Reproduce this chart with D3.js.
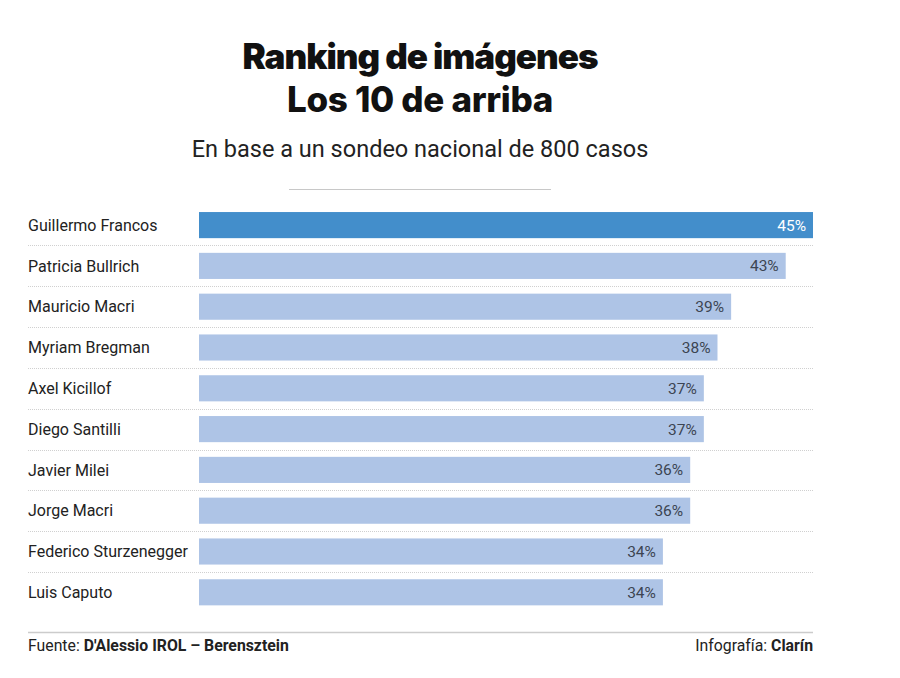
<!DOCTYPE html>
<html><head><meta charset="utf-8">
<script src="https://cdn.jsdelivr.net/npm/d3@7"></script>
<style>body{margin:0;background:#fff;} svg{display:block;}</style>
</head><body>
<svg id="chart" width="900" height="678"></svg>
<script>
const names = ["Guillermo Francos","Patricia Bullrich","Mauricio Macri","Myriam Bregman","Axel Kicillof","Diego Santilli","Javier Milei","Jorge Macri","Federico Sturzenegger","Luis Caputo"];
const values = [45,43,39,38,37,37,36,36,34,34];
const highlight = ["Guillermo Francos"];
const titleLines = ["Ranking de imágenes","Los 10 de arriba"];
const subtitle = "En base a un sondeo nacional de 800 casos";

const svg = d3.select("#chart");
const bodyFont = "Roboto, 'Noto Sans', sans-serif";
const titleFont = "Inter, Roboto, sans-serif";

svg.append("text").attr("x",420).attr("y",69).attr("text-anchor","middle")
  .attr("font-family",titleFont).attr("font-weight",900).attr("font-size",35).attr("letter-spacing",-1)
  .attr("fill","#111").text(titleLines[0]);
svg.append("text").attr("x",420).attr("y",112).attr("text-anchor","middle")
  .attr("font-family",titleFont).attr("font-weight",800).attr("font-size",35).attr("letter-spacing",-0.3)
  .attr("fill","#111").text(titleLines[1]);
svg.append("text").attr("x",420).attr("y",157).attr("text-anchor","middle")
  .attr("font-family",bodyFont).attr("font-size",23.5).attr("fill","#222").text(subtitle);
svg.append("line").attr("x1",289).attr("x2",551).attr("y1",189.5).attr("y2",189.5)
  .attr("stroke","#c8c8c8").attr("stroke-width",1);

const x = d3.scaleLinear().domain([0,45]).range([199,813]);
const y = d3.scaleBand().domain(names).range([204.7,612.7]).paddingInner(0.36).paddingOuter(0.18);

const rows = svg.append("g");
names.forEach((n,i)=>{
  if(i<names.length-1){
    const yy = y(n)+y.bandwidth()+ (y.step()-y.bandwidth())/2;
    rows.append("line").attr("x1",28).attr("x2",813).attr("y1",Math.round(yy)+0.5).attr("y2",Math.round(yy)+0.5)
      .attr("stroke","#d0d0d0").attr("stroke-width",1).attr("stroke-dasharray","1,1");
  }
});

const data = names.map((n,i)=>({name:n,value:values[i]}));
svg.selectAll("rect.bar").data(data).join("rect").attr("class","bar")
  .attr("x",x(0)).attr("y",d=>y(d.name)).attr("width",d=>x(d.value)-x(0)).attr("height",y.bandwidth())
  .attr("fill",d=>highlight.includes(d.name)?"#438ecb":"#aec4e6");

svg.selectAll("text.lbl").data(data).join("text").attr("class","lbl")
  .attr("x",28).attr("y",d=>y(d.name)+y.bandwidth()/2).attr("dy","0.35em")
  .attr("font-family",bodyFont).attr("font-size",16).attr("fill","#222").text(d=>d.name);

svg.selectAll("text.val").data(data).join("text").attr("class","val")
  .attr("x",d=>x(d.value)-7).attr("y",d=>y(d.name)+y.bandwidth()/2).attr("dy","0.35em")
  .attr("text-anchor","end").attr("font-family",bodyFont).attr("font-size",15.5)
  .attr("fill",d=>highlight.includes(d.name)?"#fff":"#3c4452").text(d=>d.value+"%");

svg.append("line").attr("x1",28).attr("x2",813).attr("y1",632.5).attr("y2",632.5).attr("stroke","#ccc").attr("stroke-width",1.5);
const f = svg.append("text").attr("x",28).attr("y",651).attr("font-family",bodyFont).attr("font-size",15.8).attr("fill","#222");
f.append("tspan").text("Fuente: ");
f.append("tspan").attr("font-weight",700).text("D'Alessio IROL – Berensztein");
const g = svg.append("text").attr("x",813).attr("y",651).attr("text-anchor","end").attr("font-family",bodyFont).attr("font-size",15.8).attr("fill","#222");
g.append("tspan").text("Infografía: ");
g.append("tspan").attr("font-weight",700).text("Clarín");
</script>
</body></html>
